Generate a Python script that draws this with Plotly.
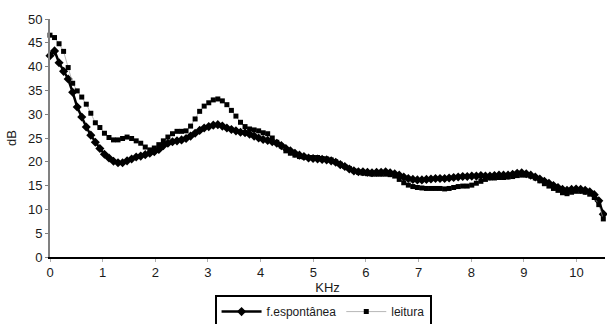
import plotly.graph_objects as go

freq_khz = [
    0.000, 0.086, 0.172, 0.258, 0.345, 0.431, 0.517, 0.603, 0.689, 0.775,
    0.861, 0.947, 1.034, 1.120, 1.206, 1.292, 1.378, 1.464, 1.550, 1.637,
    1.723, 1.809, 1.895, 1.981, 2.067, 2.153, 2.239, 2.326, 2.412, 2.498,
    2.584, 2.670, 2.756, 2.842, 2.928, 3.015, 3.101, 3.187, 3.273, 3.359,
    3.445, 3.531, 3.618, 3.704, 3.790, 3.876, 3.962, 4.048, 4.134, 4.221,
    4.307, 4.393, 4.479, 4.565, 4.651, 4.737, 4.823, 4.910, 4.996, 5.082,
    5.168, 5.254, 5.340, 5.426, 5.513, 5.599, 5.685, 5.771, 5.857, 5.943,
    6.029, 6.115, 6.202, 6.288, 6.374, 6.460, 6.546, 6.632, 6.718, 6.805,
    6.891, 6.977, 7.063, 7.149, 7.235, 7.321, 7.407, 7.494, 7.580, 7.666,
    7.752, 7.838, 7.924, 8.010, 8.097, 8.183, 8.269, 8.355, 8.441, 8.527,
    8.613, 8.699, 8.786, 8.872, 8.958, 9.044, 9.130, 9.216, 9.302, 9.389,
    9.475, 9.561, 9.647, 9.733, 9.819, 9.905, 9.991, 10.078, 10.164, 10.250,
    10.336, 10.422, 10.508,
]

f_espontanea = [
    42.3, 43.3, 40.8, 39.0, 37.4, 34.6, 31.5, 29.4, 27.3, 25.6,
    24.1, 22.8, 21.6, 20.8, 20.1, 19.8, 19.8, 20.2, 20.6, 21.0,
    21.2, 21.5, 21.8, 22.1, 22.6, 23.4, 23.9, 24.2, 24.4, 24.6,
    24.9, 25.4, 26.0, 26.6, 27.1, 27.4, 27.7, 27.8, 27.5, 27.1,
    26.8, 26.5, 26.2, 26.1, 25.8, 25.4, 25.0, 24.7, 24.5, 24.2,
    23.9, 23.4, 22.8, 22.3, 21.8, 21.4, 21.1, 20.8, 20.7, 20.6,
    20.5, 20.4, 20.2, 19.9, 19.4, 19.0, 18.5, 18.1, 17.9, 17.9,
    17.8, 17.7, 17.8, 17.8, 17.9, 17.7, 17.5, 17.2, 16.8, 16.5,
    16.3, 16.2, 16.2, 16.3, 16.4, 16.5, 16.5, 16.5, 16.6, 16.7,
    16.8, 16.9, 16.9, 17.0, 17.0, 17.1, 17.0, 17.0, 17.1, 17.2,
    17.2, 17.2, 17.4, 17.6, 17.7, 17.5, 17.2, 16.8, 16.4, 15.9,
    15.5, 15.0, 14.6, 14.2, 14.0, 14.2, 14.3, 14.2, 14.0, 13.7,
    13.1, 11.8, 9.0,
]

leitura = [
    46.6, 46.1, 44.8, 43.2, 39.8, 36.5, 34.9, 33.6, 32.1, 30.2,
    28.2, 27.2, 26.0, 25.1, 24.6, 24.6, 24.9, 25.2, 24.9, 24.4,
    23.9, 23.1, 22.5, 22.9, 23.6, 24.4, 25.2, 25.9, 26.4, 26.4,
    26.5, 27.5, 29.0, 30.6, 31.7, 32.4, 33.0, 33.2, 32.8, 32.0,
    30.8, 29.6, 28.3, 27.4, 26.9, 26.7, 26.5, 26.1, 25.9, 25.0,
    24.1, 23.3, 22.3, 21.8, 21.4, 21.1, 21.0, 20.9, 20.9, 20.9,
    20.7, 20.6, 20.4, 20.0, 19.5, 19.0, 18.6, 18.1, 17.8, 17.6,
    17.5, 17.4, 17.4, 17.4, 17.4, 17.3, 17.0, 16.3, 15.6, 15.1,
    14.8, 14.6, 14.5, 14.4, 14.4, 14.4, 14.4, 14.3, 14.4, 14.6,
    14.8, 14.9, 14.9, 15.1, 15.5, 15.9, 16.3, 16.6, 16.6, 16.7,
    16.7, 16.8, 16.9, 17.1, 17.2, 17.2, 17.0, 16.6, 16.0, 15.4,
    14.9, 14.4, 14.0, 13.5, 13.3, 13.6, 13.8, 13.8, 13.6, 13.2,
    12.5, 11.0, 8.0,
]

y_ticks = [0, 5, 10, 15, 20, 25, 30, 35, 40, 45, 50]
x_ticks = [0, 1, 2, 3, 4, 5, 6, 7, 8, 9, 10]

FONT = "Liberation Sans, Arial, sans-serif"

fig = go.Figure()
fig.add_trace(go.Scatter(
    x=freq_khz, y=f_espontanea, name="f.espontânea", mode="lines+markers",
    line=dict(color="black", width=2.5),
    marker=dict(symbol="diamond", size=7, color="black"),
    cliponaxis=False,
))
fig.add_trace(go.Scatter(
    x=freq_khz, y=leitura, name="leitura", mode="lines+markers",
    line=dict(color="#9a9a9a", width=0.7),
    marker=dict(symbol="square", size=5, color="black"),
    cliponaxis=False,
))

fig.update_layout(
    width=607, height=324,
    margin=dict(l=50, r=2, t=19, b=67, autoexpand=False),
    paper_bgcolor="white", plot_bgcolor="white",
    font=dict(family=FONT, size=12, color="#1a1a1a"),
    showlegend=True,
    legend=dict(
        orientation="h", x=0.492, xanchor="center", y=-0.16, yanchor="top",
        bordercolor="black", borderwidth=2, bgcolor="white",
        font=dict(family=FONT, size=12, color="#1a1a1a"),
        itemwidth=40, tracegroupgap=0, valign="middle",
    ),
    xaxis=dict(
        range=[0, 10.54], tickvals=x_ticks, ticktext=[str(v) for v in x_ticks],
        showgrid=False, zeroline=False, automargin=False,
        showline=True, linecolor="black", linewidth=1.5,
        ticks="outside", ticklen=3, tickcolor="#b0b0b0", tickwidth=1,
        title=dict(text="KHz", standoff=4, font=dict(size=13)),
        tickfont=dict(size=13),
    ),
    yaxis=dict(
        range=[0, 50], tickvals=y_ticks, ticktext=[str(v) for v in y_ticks],
        showgrid=False, zeroline=False, automargin=False,
        showline=True, linecolor="#808080", linewidth=2,
        ticks="outside", ticklen=3, tickcolor="#808080", tickwidth=1,
        title=dict(text="dB", standoff=8, font=dict(size=13)),
        tickfont=dict(size=13),
    ),
)

fig.write_html(
    "out.html",
    config={"displayModeBar": False},
    post_script="document.body.style.margin='0';",
)
